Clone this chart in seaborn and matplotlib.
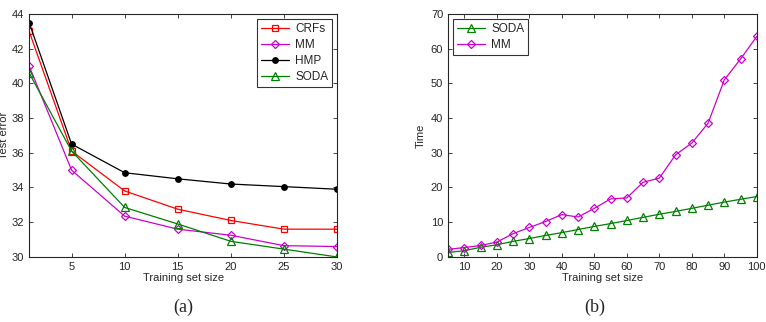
import matplotlib
matplotlib.use("Agg")
import matplotlib.pyplot as plt
import pandas as pd
import seaborn as sns

# (a) test error vs training set size
sizes_a = [1, 5, 10, 15, 20, 25, 30]
crfs_err = [43.0, 36.1, 33.8, 32.75, 32.1, 31.6, 31.6]
mm_err = [41.0, 35.0, 32.35, 31.6, 31.25, 30.65, 30.6]
hmp_err = [43.5, 36.5, 34.85, 34.5, 34.2, 34.05, 33.9]
soda_err = [40.6, 36.1, 32.85, 31.9, 30.9, 30.45, 30.0]

# (b) time vs training set size
sizes_b = [5, 10, 15, 20, 25, 30, 35, 40, 45, 50, 55, 60, 65, 70, 75, 80, 85, 90, 95, 100]
soda_time = [1.3, 1.8, 2.8, 3.5, 4.5, 5.3, 6.2, 7.0, 7.9, 8.8,
             9.6, 10.5, 11.4, 12.3, 13.1, 14.0, 14.9, 15.8, 16.6, 17.4]
mm_time = [2.2, 2.7, 3.3, 4.3, 6.7, 8.5, 10.2, 12.2, 11.5, 14.0,
           16.7, 17.0, 21.5, 22.7, 29.4, 32.8, 38.5, 51.0, 57.0, 63.5]

sns.set_style("ticks")
plt.rcParams["font.family"] = ["Liberation Sans", "DejaVu Sans"]
plt.rcParams["xtick.direction"] = "in"
plt.rcParams["ytick.direction"] = "in"

styles = {
    "CRFs": dict(color="#ff0000", marker="s"),
    "MM": dict(color="#cc00cc", marker="D"),
    "HMP": dict(color="black", marker="o"),
    "SODA": dict(color="#008000", marker="^"),
}
msize = {"s": 5, "D": 4.5, "o": 4, "^": 6}

df_a = pd.concat([
    pd.DataFrame({"size": sizes_a, "err": v, "method": m})
    for m, v in [("CRFs", crfs_err), ("MM", mm_err), ("HMP", hmp_err), ("SODA", soda_err)]
])
df_b = pd.concat([
    pd.DataFrame({"size": sizes_b, "time": v, "method": m})
    for m, v in [("SODA", soda_time), ("MM", mm_time)]
])

fig = plt.figure(figsize=(7.66, 3.22), dpi=100)
ax1 = fig.add_axes([0.038, 0.202, 0.402, 0.755])
ax2 = fig.add_axes([0.585, 0.202, 0.403, 0.755])


def draw(ax, df, ycol):
    for m in df["method"].unique():
        st = styles[m]
        filled = st["marker"] == "o"
        sns.lineplot(
            data=df[df["method"] == m], x="size", y=ycol, ax=ax,
            color=st["color"], marker=st["marker"], markersize=msize[st["marker"]],
            markerfacecolor=st["color"] if filled else "none",
            markeredgecolor=st["color"], markeredgewidth=0.9,
            linewidth=0.9, label=m,
        )
    for s in ax.spines.values():
        s.set_linewidth(0.8)
    ax.tick_params(top=True, right=True, labelsize=8, length=3, width=0.6)
    ax.set_xlabel("Training set size", fontsize=8, labelpad=1)


def legend(ax, loc):
    leg = ax.legend(loc=loc, fontsize=8.5, frameon=True, fancybox=False,
                    edgecolor="black", handlelength=2.4, borderpad=0.35,
                    labelspacing=0.35, handletextpad=0.5, borderaxespad=0.4)
    leg.get_frame().set_linewidth(0.8)


draw(ax1, df_a, "err")
ax1.set_xlim(1, 30)
ax1.set_ylim(30, 44)
ax1.set_xticks([5, 10, 15, 20, 25, 30])
ax1.set_yticks(range(30, 45, 2))
ax1.set_ylabel("Test error", fontsize=8, labelpad=2)
legend(ax1, "upper right")

draw(ax2, df_b, "time")
ax2.set_xlim(5, 100)
ax2.set_ylim(0, 70)
ax2.set_xticks(range(10, 101, 10))
ax2.set_yticks(range(0, 71, 10))
ax2.set_ylabel("Time", fontsize=8, labelpad=4)
legend(ax2, "upper left")

fig.text(0.239, 0.03, "(a)", ha="center", fontsize=13, family="Liberation Serif")
fig.text(0.777, 0.03, "(b)", ha="center", fontsize=13, family="Liberation Serif")

fig.savefig("out.png", dpi=100)
